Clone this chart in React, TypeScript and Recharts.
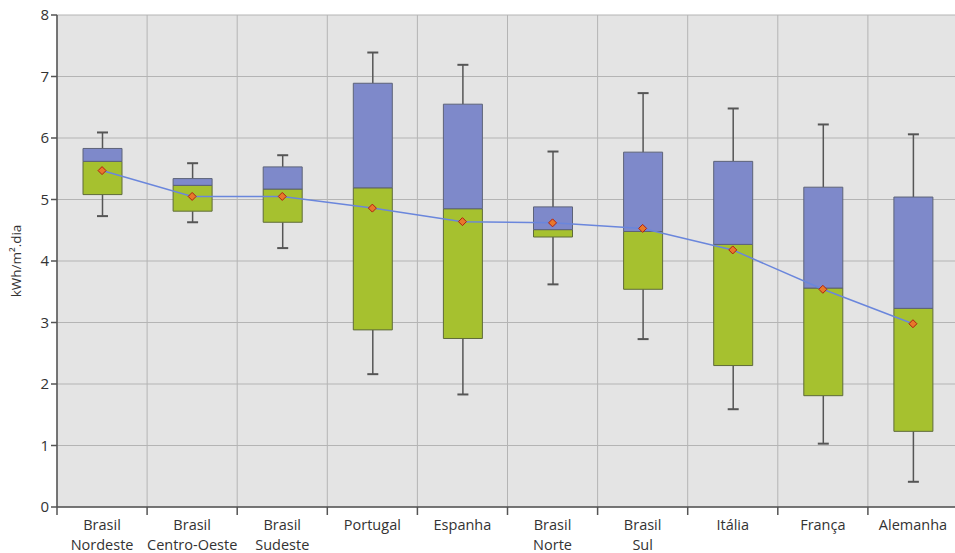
import {
  ComposedChart, Bar, Line, XAxis, YAxis, CartesianGrid, Rectangle,
} from 'recharts';

const regions = [
  'Brasil\nNordeste', 'Brasil\nCentro-Oeste', 'Brasil\nSudeste', 'Portugal', 'Espanha',
  'Brasil\nNorte', 'Brasil\nSul', 'Itália', 'França', 'Alemanha',
];
const minimo = [4.73, 4.63, 4.21, 2.16, 1.83, 3.62, 2.73, 1.59, 1.03, 0.41];
const quartil1 = [5.08, 4.81, 4.63, 2.88, 2.74, 4.39, 3.54, 2.3, 1.81, 1.23];
const mediana = [5.62, 5.23, 5.17, 5.19, 4.85, 4.51, 4.48, 4.27, 3.56, 3.23];
const quartil3 = [5.83, 5.34, 5.53, 6.89, 6.55, 4.88, 5.77, 5.62, 5.2, 5.04];
const maximo = [6.09, 5.59, 5.72, 7.39, 7.19, 5.78, 6.73, 6.48, 6.22, 6.06];
const media = [5.47, 5.05, 5.05, 4.86, 4.64, 4.62, 4.53, 4.18, 3.54, 2.98];
const yTicks = [0, 1, 2, 3, 4, 5, 6, 7, 8];

const data = regions.map((name, i) => ({
  name,
  min: minimo[i],
  max: maximo[i],
  base: quartil1[i],
  lower: mediana[i] - quartil1[i],
  upper: quartil3[i] - mediana[i],
  media: media[i],
}));

const FONT = '"Open Sans", sans-serif';
const AXIS = '#555';

// label + tick mark at the left edge of each category band
const RegionTick = ({ x, y, payload }: any) => {
  const lines = String(payload.value).split('\n');
  const edge = x - (payload.offset || 0);
  return (
    <g>
      <line x1={edge} x2={edge} y1={y} y2={y + 8} stroke={AXIS} strokeWidth={1.5} />
      <text x={x} y={y} textAnchor="middle" fill="#333" fontSize={14.5} fontFamily={FONT}>
        {lines.map((l, i) => (
          <tspan key={i} x={x} dy={i === 0 ? 23 : 20}>{l}</tspan>
        ))}
      </text>
    </g>
  );
};

// vertical grid lines on the band boundaries
const bandEdges = ({ offset }: any) =>
  regions.map((_, i) => offset.left + (i * offset.width) / regions.length);

// invisible base bar (0..Q1) carries the lower whisker
const LowerWhisker = ({ x, y, width, height, payload }: any) => {
  if (!payload || !height) return null;
  const ppu = height / payload.base;
  const cx = x + width / 2;
  const yMin = y + height - payload.min * ppu;
  return (
    <g stroke={AXIS} strokeWidth={1.5}>
      <line x1={cx} x2={cx} y1={y} y2={yMin} />
      <line x1={cx - 5.5} x2={cx + 5.5} y1={yMin} y2={yMin} strokeWidth={2} />
    </g>
  );
};

// top box segment (median..Q3) carries the upper whisker
const UpperBox = ({ x, y, width, height, payload }: any) => {
  const ppu = height / payload.upper;
  const cx = x + width / 2;
  const yMax = y - (payload.max - (payload.base + payload.lower + payload.upper)) * ppu;
  return (
    <g>
      <g stroke={AXIS} strokeWidth={1.5}>
        <line x1={cx} x2={cx} y1={y} y2={yMax} />
        <line x1={cx - 5.5} x2={cx + 5.5} y1={yMax} y2={yMax} strokeWidth={2} />
      </g>
      <Rectangle x={x} y={y} width={width} height={height} fill="#7e89ca" stroke="#5d6378" strokeWidth={1} />
    </g>
  );
};

const Diamond = ({ cx, cy }: any) => (
  <polygon
    points={`${cx},${cy - 4} ${cx + 4},${cy} ${cx},${cy + 4} ${cx - 4},${cy}`}
    fill="#e8782a"
    stroke="#b02010"
    strokeWidth={1}
  />
);

export default function App() {
  return (
    <div style={{ position: 'absolute', left: 0, top: 0, background: '#fff' }}>
      <ComposedChart
        width={955}
        height={553}
        data={data}
        margin={{ top: 15, right: -3, bottom: 0, left: 0 }}
      >
        <CartesianGrid
          fill="#e4e4e4"
          stroke="#b4b4b4"
          strokeWidth={1}
          verticalCoordinatesGenerator={bandEdges}
        />
        <XAxis
          dataKey="name"
          height={46}
          interval={0}
          tickLine={false}
          tickSize={0}
          tickMargin={0}
          stroke={AXIS}
          strokeWidth={1.5}
          tick={<RegionTick />}
        />
        <YAxis
          domain={[0, 8]}
          ticks={yTicks}
          width={57}
          tickSize={6}
          stroke={AXIS}
          strokeWidth={1.5}
          tick={{ fill: '#333', fontSize: 15, fontFamily: FONT }}
          label={{
            value: 'kWh/m².dia',
            angle: -90,
            position: 'insideLeft',
            offset: 16,
            style: { textAnchor: 'middle', fill: '#333', fontSize: 13.5, fontFamily: FONT },
          }}
        />
        <Bar dataKey="base" stackId="box" fill="transparent" barSize={39} shape={<LowerWhisker />} isAnimationActive={false} />
        <Bar dataKey="lower" stackId="box" fill="#a6c12f" stroke="#5f6b3a" strokeWidth={1} barSize={39} isAnimationActive={false} />
        <Bar dataKey="upper" stackId="box" barSize={39} shape={<UpperBox />} isAnimationActive={false} />
        <Line
          dataKey="media"
          type="linear"
          stroke="#6a86dc"
          strokeWidth={1.5}
          dot={<Diamond />}
          activeDot={false}
          isAnimationActive={false}
        />
      </ComposedChart>
    </div>
  );
}
